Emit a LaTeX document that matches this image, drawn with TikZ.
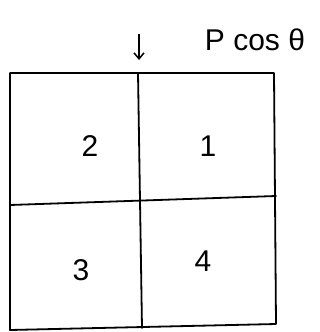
\documentclass[tikz,border=0pt]{standalone}
\usepackage{fontspec}
\setmainfont{Liberation Sans}
\usetikzlibrary{arrows.meta}
\begin{document}
\begin{tikzpicture}[x=1pt,y=-1pt,
  gridline/.style={line width=1.8pt,black,line cap=round,line join=round},
  numlabel/.style={font=\fontsize{30}{32}\selectfont,inner sep=0pt},
  toplabel/.style={font=\fontsize{30}{32}\selectfont,inner sep=0pt}]
\useasboundingbox (0,0) rectangle (320,332);
% corners
\coordinate (tl) at (10,73);
\coordinate (tm) at (138,73);
\coordinate (tr) at (274,73);
\coordinate (ml) at (10,205);
\coordinate (mr) at (276,196);
\coordinate (bl) at (10,330);
\coordinate (bm) at (142,328);
\coordinate (br) at (276,324);
% grid
\draw[gridline] (tl) -- (tr) -- (br) -- (bl) -- cycle;
\draw[gridline] (tm) -- (bm);
\draw[gridline] (ml) -- (mr);
% labels
\node[numlabel] (n2) at (90,146) {2};
\node[numlabel] (n1) at (208,146) {1};
\node[numlabel] (n3) at (81,270) {3};
\node[numlabel] (n4) at (203,261) {4};
\node[toplabel] (pc) at (255,40) {P cos θ};
% arrow
\coordinate (as) at (139,34);
\coordinate (ae) at (139,60);
\draw[line width=1.5pt,-{Straight Barb[length=6pt,width=10pt]}] (as) -- (ae);
\end{tikzpicture}
\end{document}
